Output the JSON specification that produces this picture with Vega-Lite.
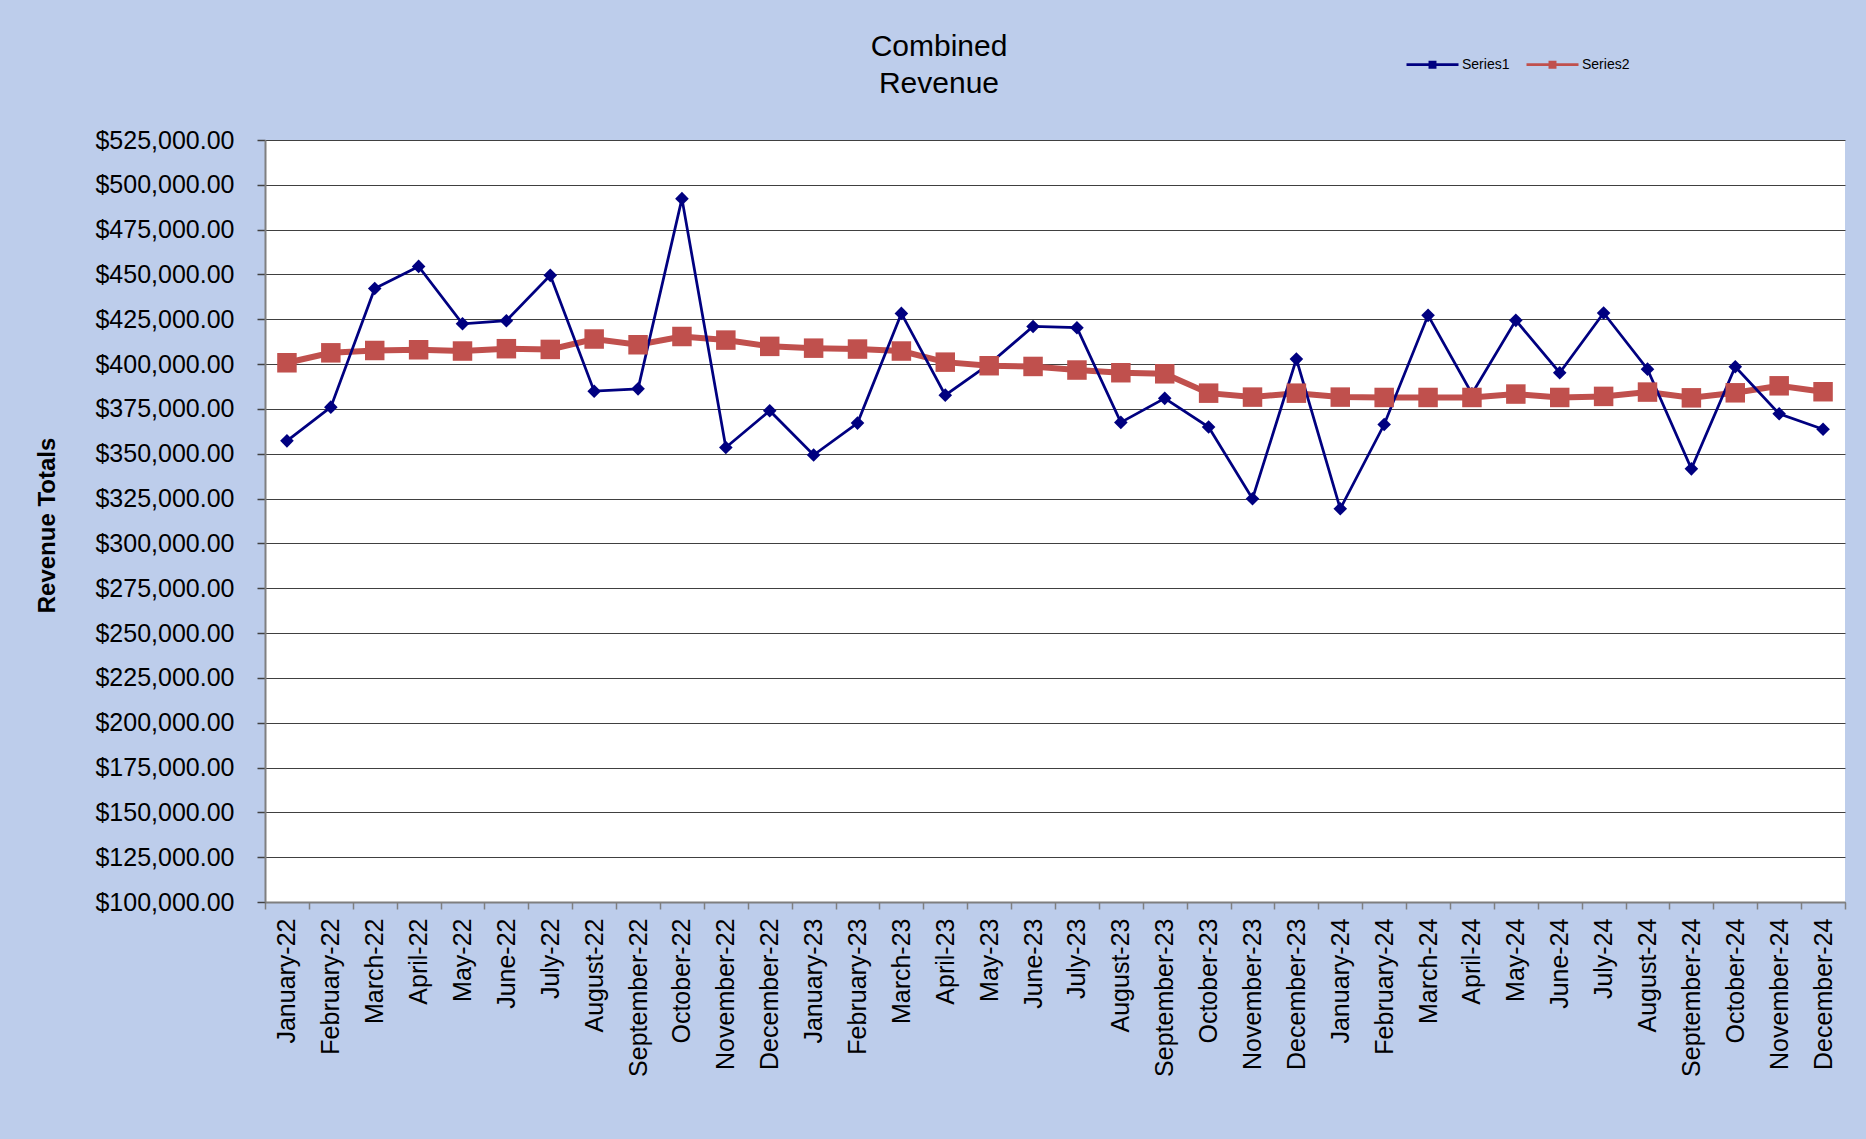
{
  "$schema": "https://vega.github.io/schema/vega-lite/v6.json",
  "autosize": {"type": "none"},
  "padding": {"left": 265, "top": 140, "right": 21, "bottom": 237},
  "width": 1580,
  "height": 762,
  "background": "#BDCDEB",
  "title": {
    "text": ["Combined", "Revenue"],
    "font": "Liberation Sans",
    "fontSize": 30,
    "fontWeight": "normal",
    "color": "black",
    "lineHeight": 37,
    "anchor": "middle",
    "baseline": "bottom",
    "offset": -92,
    "dx": -116
  },
  "data": {
    "values": [
      {"month": "January-22", "series": "Series1", "value": 357200},
      {"month": "February-22", "series": "Series1", "value": 376000},
      {"month": "March-22", "series": "Series1", "value": 442200},
      {"month": "April-22", "series": "Series1", "value": 454500},
      {"month": "May-22", "series": "Series1", "value": 422500},
      {"month": "June-22", "series": "Series1", "value": 424200},
      {"month": "July-22", "series": "Series1", "value": 449500},
      {"month": "August-22", "series": "Series1", "value": 384900},
      {"month": "September-22", "series": "Series1", "value": 386200},
      {"month": "October-22", "series": "Series1", "value": 492300},
      {"month": "November-22", "series": "Series1", "value": 353500},
      {"month": "December-22", "series": "Series1", "value": 374000},
      {"month": "January-23", "series": "Series1", "value": 349300},
      {"month": "February-23", "series": "Series1", "value": 367100},
      {"month": "March-23", "series": "Series1", "value": 428300},
      {"month": "April-23", "series": "Series1", "value": 382700},
      {"month": "May-23", "series": "Series1", "value": 400000},
      {"month": "June-23", "series": "Series1", "value": 421000},
      {"month": "July-23", "series": "Series1", "value": 420300},
      {"month": "August-23", "series": "Series1", "value": 367500},
      {"month": "September-23", "series": "Series1", "value": 380900},
      {"month": "October-23", "series": "Series1", "value": 364900},
      {"month": "November-23", "series": "Series1", "value": 324900},
      {"month": "December-23", "series": "Series1", "value": 402800},
      {"month": "January-24", "series": "Series1", "value": 319300},
      {"month": "February-24", "series": "Series1", "value": 366300},
      {"month": "March-24", "series": "Series1", "value": 427200},
      {"month": "April-24", "series": "Series1", "value": 383500},
      {"month": "May-24", "series": "Series1", "value": 424400},
      {"month": "June-24", "series": "Series1", "value": 395200},
      {"month": "July-24", "series": "Series1", "value": 428500},
      {"month": "August-24", "series": "Series1", "value": 397200},
      {"month": "September-24", "series": "Series1", "value": 341600},
      {"month": "October-24", "series": "Series1", "value": 398500},
      {"month": "November-24", "series": "Series1", "value": 372300},
      {"month": "December-24", "series": "Series1", "value": 363700},
      {"month": "January-22", "series": "Series2", "value": 400750},
      {"month": "February-22", "series": "Series2", "value": 406300},
      {"month": "March-22", "series": "Series2", "value": 407600},
      {"month": "April-22", "series": "Series2", "value": 408000},
      {"month": "May-22", "series": "Series2", "value": 407300},
      {"month": "June-22", "series": "Series2", "value": 408600},
      {"month": "July-22", "series": "Series2", "value": 408200},
      {"month": "August-22", "series": "Series2", "value": 414000},
      {"month": "September-22", "series": "Series2", "value": 410800},
      {"month": "October-22", "series": "Series2", "value": 415400},
      {"month": "November-22", "series": "Series2", "value": 413400},
      {"month": "December-22", "series": "Series2", "value": 409900},
      {"month": "January-23", "series": "Series2", "value": 408900},
      {"month": "February-23", "series": "Series2", "value": 408400},
      {"month": "March-23", "series": "Series2", "value": 407300},
      {"month": "April-23", "series": "Series2", "value": 401100},
      {"month": "May-23", "series": "Series2", "value": 399100},
      {"month": "June-23", "series": "Series2", "value": 398700},
      {"month": "July-23", "series": "Series2", "value": 396700},
      {"month": "August-23", "series": "Series2", "value": 395200},
      {"month": "September-23", "series": "Series2", "value": 394600},
      {"month": "October-23", "series": "Series2", "value": 383800},
      {"month": "November-23", "series": "Series2", "value": 381600},
      {"month": "December-23", "series": "Series2", "value": 383800},
      {"month": "January-24", "series": "Series2", "value": 381600},
      {"month": "February-24", "series": "Series2", "value": 381400},
      {"month": "March-24", "series": "Series2", "value": 381400},
      {"month": "April-24", "series": "Series2", "value": 381400},
      {"month": "May-24", "series": "Series2", "value": 383300},
      {"month": "June-24", "series": "Series2", "value": 381400},
      {"month": "July-24", "series": "Series2", "value": 382000},
      {"month": "August-24", "series": "Series2", "value": 384400},
      {"month": "September-24", "series": "Series2", "value": 381200},
      {"month": "October-24", "series": "Series2", "value": 384000},
      {"month": "November-24", "series": "Series2", "value": 387900},
      {"month": "December-24", "series": "Series2", "value": 384600}
    ]
  },
  "encoding": {
    "x": {
      "field": "month",
      "type": "nominal",
      "sort": null,
      "scale": {"type": "band", "paddingInner": 0, "paddingOuter": 0},
      "axis": {
        "title": null,
        "labelAngle": -90,
        "labelAlign": "right",
        "labelBaseline": "middle",
        "labelFont": "Liberation Sans",
        "labelFontSize": 25,
        "labelColor": "black",
        "labelPadding": 9,
        "tickSize": 7,
        "tickWidth": 1.5,
        "tickColor": "#7F7F7F",
        "tickBand": "extent",
        "domainColor": "#7F7F7F",
        "domainWidth": 2,
        "grid": false,
        "labelOverlap": false
      }
    },
    "y": {
      "field": "value",
      "type": "quantitative",
      "scale": {"domain": [100000, 525000], "nice": false, "zero": false},
      "axis": {
        "values": [100000, 125000, 150000, 175000, 200000, 225000, 250000, 275000, 300000, 325000, 350000, 375000, 400000, 425000, 450000, 475000, 500000, 525000],
        "format": "$,.2f",
        "labelFont": "Liberation Sans",
        "labelFontSize": 25,
        "labelColor": "black",
        "labelPadding": 23,
        "tickSize": 8,
        "tickWidth": 1.5,
        "tickColor": "#404040",
        "domainColor": "#7F7F7F",
        "domainWidth": 2,
        "grid": true,
        "gridColor": "#404040",
        "gridWidth": 1.2,
        "labelOverlap": false,
        "title": "Revenue Totals",
        "titleFont": "Liberation Sans",
        "titleFontSize": 24,
        "titleFontWeight": "bold",
        "titleColor": "black",
        "titleAngle": -90,
        "titleX": -218,
        "titleY": 385,
        "titleAlign": "center",
        "titleBaseline": "middle"
      }
    }
  },
  "layer": [
    {
      "transform": [{"filter": "datum.series === 'Series2'"}],
      "mark": {"type": "line", "strokeWidth": 6, "opacity": 1},
      "encoding": {
        "color": {
          "field": "series",
          "type": "nominal",
          "scale": {"domain": ["Series1", "Series2"], "range": ["#000080", "#C0504D"]},
          "legend": {
            "title": null,
            "orient": "none",
            "legendX": 1140,
            "legendY": -103,
            "direction": "horizontal",
            "symbolSize": 2704,
            "symbolType": "M-1,0H1M-0.1,-0.1H0.1V0.1H-0.1Z",
            "symbolStrokeWidth": 2.75,
            "symbolOpacity": 1,
            "labelFont": "Liberation Sans",
            "labelFontSize": 14,
            "labelColor": "black",
            "labelOffset": 2,
            "columnPadding": 11,
            "padding": 0
          }
        }
      }
    },
    {
      "transform": [{"filter": "datum.series === 'Series1'"}],
      "mark": {"type": "line", "strokeWidth": 2.75, "opacity": 1, "color": "#000080"}
    },
    {
      "transform": [{"filter": "datum.series === 'Series1'"}],
      "mark": {"type": "point", "shape": "diamond", "filled": true, "size": 185, "color": "#000080", "opacity": 1}
    },
    {
      "transform": [{"filter": "datum.series === 'Series2'"}],
      "mark": {"type": "point", "shape": "square", "filled": true, "size": 380, "color": "#C0504D", "opacity": 1}
    }
  ],
  "config": {
    "view": {"fill": "white", "stroke": null},
    "font": "Liberation Sans"
  }
}
